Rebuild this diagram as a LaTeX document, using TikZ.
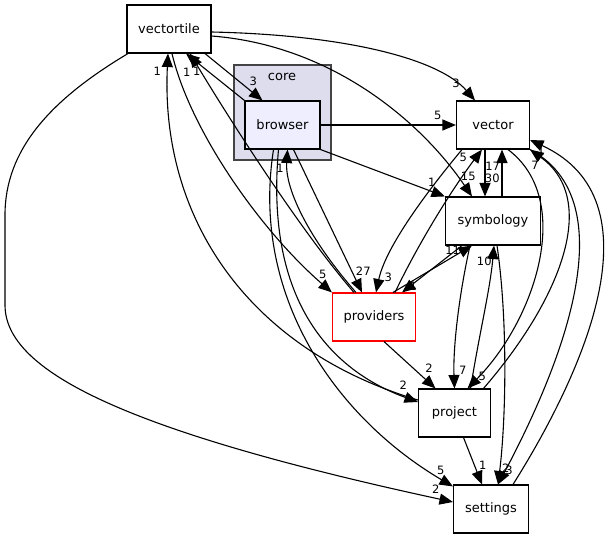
\documentclass[tikz,border=0pt]{standalone}
\usepackage{fontspec}
\setmainfont{DejaVu Sans}
\usetikzlibrary{arrows.meta}
\definecolor{clusterfill}{HTML}{DDDDEE}
\definecolor{clusterline}{HTML}{444444}
\definecolor{dirfill}{HTML}{EEEEFF}
\definecolor{mainred}{HTML}{FF0000}
\tikzset{
	dirbox/.style={draw=black,fill=white,line width=1.1pt,minimum height=48pt,inner sep=0pt,font=\fontsize{13}{15}\selectfont},
	clusterbox/.style={draw=clusterline,fill=clusterfill,line width=1.5pt,inner sep=0pt},
	dep/.style={line width=1.1pt,-{Triangle[length=13.5pt,width=11pt]}},
	deplabel/.style={inner sep=0pt,font=\fontsize{11.5}{12}\selectfont},
}
\begin{document}
\begin{tikzpicture}[x=1pt,y=-1pt]
	\useasboundingbox (0,0) rectangle (608,539);
	
	%CLUSTER
	\node[clusterbox,minimum width=97pt,minimum height=95pt] (core) at (282.5,112.5) {};
	\node[deplabel,font=\fontsize{13}{15}\selectfont] (corelabel) at (282,77) {core};
	
	%DIRECTORIES
	\node[dirbox,minimum width=84pt] (vectortile) at (169,29) {vectortile};
	\node[dirbox,fill=dirfill,minimum width=75pt] (browser) at (282.5,125) {browser};
	\node[dirbox,minimum width=73pt] (vector) at (493,125) {vector};
	\node[dirbox,minimum width=95pt] (symbology) at (493,221) {symbology};
	\node[dirbox,draw=mainred,minimum width=83pt] (providers) at (374,317) {providers};
	\node[dirbox,minimum width=72pt] (project) at (454.5,413) {project};
	\node[dirbox,minimum width=75pt] (settings) at (491,509) {settings};
	
	%FROM VECTORTILE
	\draw[dep] ([xshift=36pt]vectortile.south) -- ([xshift=-20pt]browser.north);	%3
	\draw[dep] ([xshift=3pt]vectortile.south) .. controls (190,130) and (260,230) .. (providers.north west);	%5
	\draw[dep] ([xshift=-41pt]vectortile.south) .. controls (50,100) and (5,150) .. (5,215) -- (5,305) .. controls (5,370) and (120,430) .. ([yshift=7pt]settings.west);	%2
	\draw[dep] ([yshift=-3pt]vectortile.east) .. controls (350,35) and (440,60) .. ([xshift=-18pt]vector.north);	%3
	\draw[dep] ([yshift=-7pt]vectortile.east) .. controls (330,45) and (420,120) .. ([xshift=-21pt]symbology.north);	%15
	
	%FROM BROWSER
	\draw[dep] (browser.north west) -- ([xshift=17pt]vectortile.south);	%1
	\draw[dep] (browser.east) -- (vector.west);	%5
	\draw[dep] (browser.south east) -- (symbology.north west);	%1
	\draw[dep] ([xshift=11pt]browser.south) -- ([xshift=-12pt]providers.north);	%27
	\draw[dep] ([xshift=-4pt]browser.south) .. controls (265,300) and (330,370) .. ([yshift=11pt]project.west);	%2
	\draw[dep] ([xshift=-9pt]browser.south) .. controls (250,300) and (340,420) .. ([yshift=-2pt]settings.north west);	%5
	
	%FROM VECTOR
	\draw[dep] ([xshift=-31pt]vector.south) .. controls (420,200) and (385,250) .. ([xshift=2pt]providers.north);	%3
	\draw[dep] ([xshift=-8pt]vector.south) -- ([xshift=-8pt]symbology.north);	%30
	\draw[dep] ([xshift=15pt]vector.south) .. controls (575,200) and (535,320) .. ([xshift=13pt]project.north);	%5
	\draw[dep] (vector.south east) .. controls (615,195) and (580,330) .. ([xshift=7pt]settings.north);	%3
	
	%FROM SYMBOLOGY
	\draw[dep] ([xshift=9pt]symbology.north) -- ([xshift=9pt]vector.south);	%17
	\draw[dep] ([xshift=-31pt]symbology.south) -- ([xshift=28pt]providers.north);	%1
	\draw[dep] ([xshift=-23pt]symbology.south) .. controls (458,300) and (453,350) .. (project.north);	%7
	\draw[dep] ([xshift=4pt]symbology.south) .. controls (508,320) and (506,420) .. ([xshift=7pt]settings.north);	%2
	
	%FROM PROVIDERS
	\draw[dep] ([xshift=-20pt]providers.north) .. controls (300,230) and (230,120) .. ([xshift=21pt]vectortile.south);	%1
	\draw[dep] ([xshift=-18pt]providers.north) .. controls (310,240) and (285,190) .. ([xshift=5pt]browser.south);	%1
	\draw[dep] ([xshift=21pt]providers.north) .. controls (420,240) and (455,185) .. ([xshift=-11pt]vector.south);	%5
	\draw[dep] ([xshift=19pt]providers.north) -- ([xshift=-21pt]symbology.south);	%11
	\draw[dep] ([xshift=10pt]providers.south) -- ([xshift=-19pt]project.north);	%2
	
	%FROM PROJECT
	\draw[dep] ([yshift=13pt]project.west) .. controls (250,350) and (160,220) .. ([xshift=-1pt]vectortile.south);	%1
	\draw[dep] ([xshift=29pt]project.north) .. controls (560,300) and (600,200) .. (vector.south east);	%7
	\draw[dep] ([xshift=16pt]project.north) .. controls (480,330) and (490,290) .. ([xshift=1pt]symbology.south);	%10
	\draw[dep] ([xshift=9pt]project.south) -- ([xshift=-9pt]settings.north);	%1
	
	%FROM SETTINGS
	\draw[dep] ([xshift=22pt]settings.north) .. controls (585,370) and (660,200) .. ([yshift=-15pt]vector.east);	%1
	
	%LABELS
	\node[deplabel] (l-vt-br) at (253.3,81.7) {3};
	\node[deplabel] (l-pj-vt) at (157.3,71) {1};
	\node[deplabel] (l-br-vt) at (186.7,72.3) {1};
	\node[deplabel] (l-pr-vt) at (196.7,71.7) {1};
	\node[deplabel] (l-vt-ve) at (456,83) {3};
	\node[deplabel] (l-br-ve) at (437.7,115) {5};
	\node[deplabel] (l-pr-ve) at (463.3,157.7) {5};
	\node[deplabel] (l-sy-ve) at (492.7,166) {17};
	\node[deplabel] (l-ve-sy) at (492.3,178.5) {30};
	\node[deplabel] (l-br-sy) at (431.7,182.7) {1};
	\node[deplabel] (l-vt-sy) at (468.3,176.7) {15};
	\node[deplabel] (l-pr-sy) at (452.7,250.7) {11};
	\node[deplabel] (l-pj-sy) at (484.3,261.7) {10};
	\node[deplabel] (l-sy-pr) at (413.3,286.7) {1};
	\node[deplabel] (l-ve-pr) at (388.3,277.7) {3};
	\node[deplabel] (l-br-pr) at (363.3,271.7) {27};
	\node[deplabel] (l-vt-pr) at (322.7,274.3) {5};
	\node[deplabel] (l-pr-br) at (280,168.3) {1};
	\node[deplabel] (l-pr-pj) at (429,368.3) {2};
	\node[deplabel] (l-sy-pj) at (462.7,370) {7};
	\node[deplabel] (l-ve-pj) at (482.3,376.7) {5};
	\node[deplabel] (l-br-pj) at (403.3,385.7) {2};
	\node[deplabel] (l-pj-se) at (482.7,465) {1};
	\node[deplabel] (l-sy-se) at (505.7,468.3) {2};
	\node[deplabel] (l-ve-se) at (509,470) {3};
	\node[deplabel] (l-br-se) at (440.7,470) {5};
	\node[deplabel] (l-vt-se) at (435.7,489.3) {2};
	\node[deplabel] (l-se-ve) at (541,151.7) {1};
	\node[deplabel] (l-pj-ve) at (535,165) {7};
\end{tikzpicture}
\end{document}
